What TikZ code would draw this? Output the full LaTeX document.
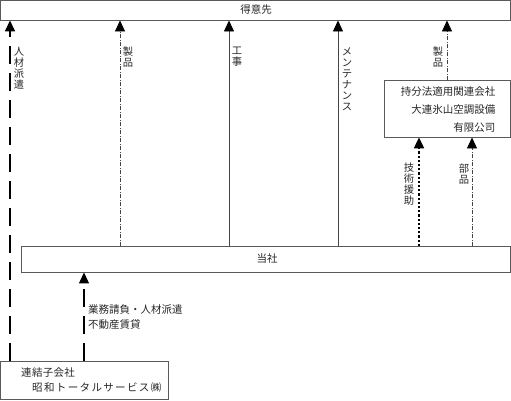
\documentclass[tikz,border=0pt]{standalone}
\usepackage{fontspec}
\setmainfont{Noto Sans CJK JP}
\usetikzlibrary{arrows.meta}
\definecolor{boxgray}{HTML}{5A5A5A}
\definecolor{linegray}{HTML}{444444}
\tikzset{
  box/.style={draw=boxgray, line width=0.9pt, inner sep=0pt, rectangle},
  txt/.style={font=\fontsize{10.5}{18}\selectfont, inner sep=0pt, text=black!85},
  vlabel/.style={font=\fontsize{10.3}{11}\selectfont, inner sep=0pt, align=center, anchor=north, text=black!85},
  tip/.style={-{Triangle[width=10pt,length=11pt,black]}},
  longdash/.style={tip, line width=1.6pt, dash pattern=on 18pt off 9pt, black},
  dashdotline/.style={tip, line width=0.8pt, dash pattern=on 4pt off 1.5pt on 1pt off 1.5pt, linegray},
  solidline/.style={tip, line width=0.9pt, linegray},
  dotline/.style={tip, line width=2.2pt, dash pattern=on 2.2pt off 2pt, black},
}
\begin{document}
\begin{tikzpicture}[x=1pt,y=-1pt]
\useasboundingbox (0,0) rectangle (511,400);
% boxes
\node[box, minimum width=509.5pt, minimum height=19.5pt] (tokui) at (255.25,10.25) {};
\node[txt] (tokuiT) at (256,10) {得意先};
\node[box, minimum width=489pt, minimum height=25.5pt] (tosha) at (265.5,259.25) {};
\node[txt] (toshaT) at (267,259) {当社};
\node[box, minimum width=125.5pt, minimum height=56.5pt] (mochi) at (447.25,108.75) {};
\node[txt, align=right, anchor=east] (mochiT) at (495.5,110) {持分法適用関連会社\\大連氷山空調設備\\有限公司};
\node[box, minimum width=167.5pt, minimum height=38.5pt] (renketsu) at (84.25,380.25) {};
\node[txt, anchor=west] (renT1) at (21,373) {\addfontfeature{LetterSpace=3}連結子会社};
\node[txt, anchor=west] (renT2) at (32,388) {\addfontfeature{LetterSpace=13}昭和トータルサービス㈱};
% x positions
\coordinate (x0) at (10,0);
\coordinate (x1) at (120,0);
\coordinate (x2) at (229,0);
\coordinate (x3) at (338,0);
\coordinate (x4) at (447,0);
\coordinate (x5) at (419,0);
\coordinate (x6) at (472,0);
\coordinate (x7) at (84,0);
% connectors
\draw[longdash] (renketsu.north -| x0) -- (tokui.south -| x0);
\draw[dashdotline] (tosha.north -| x1) -- (tokui.south -| x1);
\draw[solidline] (tosha.north -| x2) -- (tokui.south -| x2);
\draw[solidline] (tosha.north -| x3) -- (tokui.south -| x3);
\draw[dashdotline] (mochi.north -| x4) -- (tokui.south -| x4);
\draw[dotline] (tosha.north -| x5) -- (mochi.south -| x5);
\draw[dashdotline] (tosha.north -| x6) -- (mochi.south -| x6);
\draw[longdash, line width=1.2pt] (renketsu.north -| x7) -- (tosha.south -| x7);
% labels
\node[vlabel] (l1) at (19,47) {人\\材\\派\\遣};
\node[vlabel] (l2) at (128,47) {製\\品};
\node[vlabel] (l3) at (237,47) {工\\事};
\node[vlabel] (l4) at (347,47) {メ\\ン\\テ\\ナ\\ン\\ス};
\node[vlabel] (l5) at (438,47) {製\\品};
\node[vlabel] (l6) at (409,163) {技\\術\\援\\助};
\node[vlabel] (l7) at (464,164) {部\\品};
\node[txt, font=\fontsize{10.5}{15}\selectfont, align=left, anchor=west] (l8) at (88,317.5) {業務請負・人材派遣\\不動産賃貸};
\end{tikzpicture}
\end{document}
